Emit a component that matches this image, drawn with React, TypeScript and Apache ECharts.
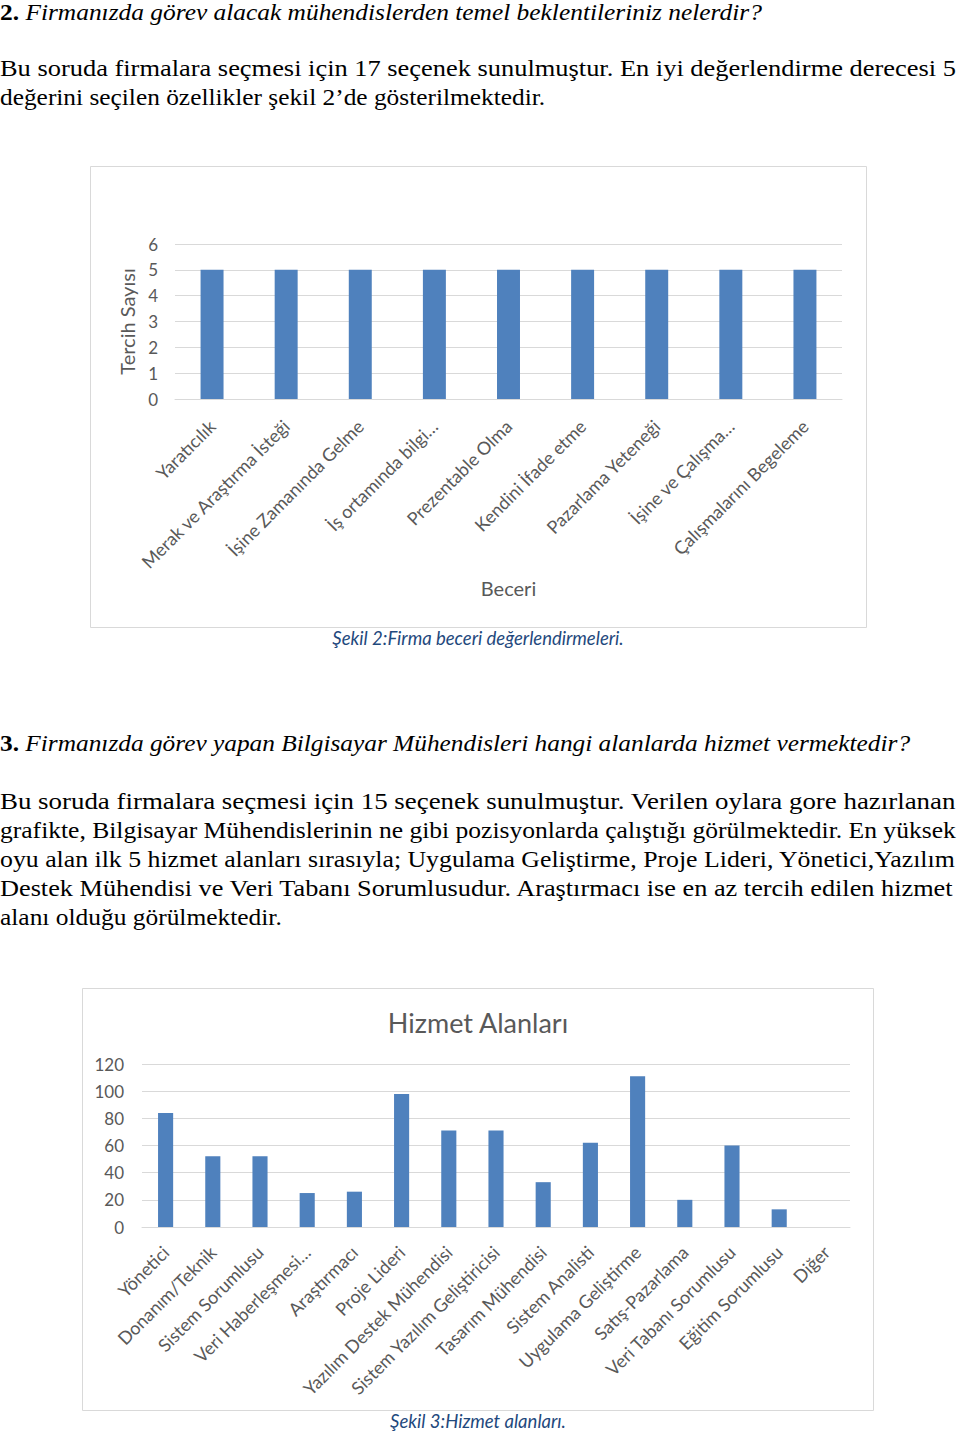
import React, { useEffect, useRef } from "react";
import * as echarts from "echarts";

// ---------- DATA ----------
const skillCategories = [
  "Yaratıcılık",
  "Merak ve Araştırma İsteği",
  "İşine Zamanında Gelme",
  "İş ortamında bilgi…",
  "Prezentable Olma",
  "Kendini İfade etme",
  "Pazarlama Yeteneği",
  "İşine ve Çalışma…",
  "Çalışmalarını Begeleme",
];
const skillValues = [5, 5, 5, 5, 5, 5, 5, 5, 5];

const serviceCategories = [
  "Yönetici",
  "Donanım/Teknik",
  "Sistem Sorumlusu",
  "Veri Haberleşmesi…",
  "Araştırmacı",
  "Proje Lideri",
  "Yazılım Destek Mühendisi",
  "Sistem Yazılım Geliştiricisi",
  "Tasarım Mühendisi",
  "Sistem Analisti",
  "Uygulama Geliştirme",
  "Satış-Pazarlama",
  "Veri Tabanı Sorumlusu",
  "Eğitim Sorumlusu",
  "Diğer",
];
const serviceValues = [84, 52, 52, 25, 26, 98, 71, 71, 33, 62, 111, 20, 60, 13, 0];

// ---------- TEXT ----------
const q2Number = "2.";
const q2Question = "Firmanızda görev alacak mühendislerden temel beklentileriniz nelerdir?";
const p1Lines = [
  "Bu soruda firmalara seçmesi için 17 seçenek sunulmuştur. En iyi değerlendirme derecesi 5",
  "değerini seçilen özellikler şekil 2’de gösterilmektedir.",
];
const q3Number = "3.";
const q3Question = "Firmanızda görev yapan Bilgisayar Mühendisleri hangi alanlarda hizmet vermektedir?";
const p2Lines = [
  "Bu soruda firmalara seçmesi için 15 seçenek sunulmuştur. Verilen oylara gore hazırlanan",
  "grafikte, Bilgisayar Mühendislerinin ne gibi pozisyonlarda çalıştığı görülmektedir. En yüksek",
  "oyu alan ilk 5 hizmet alanları sırasıyla; Uygulama Geliştirme, Proje Lideri, Yönetici,Yazılım",
  "Destek Mühendisi ve Veri Tabanı Sorumlusudur. Araştırmacı ise en az tercih edilen hizmet",
  "alanı olduğu görülmektedir.",
];
const chart1XName = "Beceri";
const chart1YName = "Tercih Sayısı";
const chart2Title = "Hizmet Alanları";
const caption2 = "Şekil 2:Firma beceri değerlendirmeleri.";
const caption3 = "Şekil 3:Hizmet alanları.";

// ---------- LAYOUT (positions / widths of text lines) ----------
const SERIF = "Liberation Serif";
const SANS = "Lato";
const BODY_SIZE = 24;
const q2Layout = { y: 12, width: 762 };
const p1Layout = [
  { y: 68, width: 956 },
  { y: 97, width: 545 },
];
const q3Layout = { y: 743, width: 910 };
const p2Layout = [
  { y: 801, width: 956 },
  { y: 830, width: 956 },
  { y: 859, width: 956 },
  { y: 888, width: 956 },
  { y: 917, width: 282 },
];

const BLUE = "#4f81bd";
const GRID_GRAY = "#d9d9d9";
const LABEL_GRAY = "#595959";
const CAPTION_BLUE = "#1f497d";

function makeMeasurer() {
  const c = document.createElement("canvas");
  const ctx = c.getContext("2d") as CanvasRenderingContext2D;
  return (font: string, text: string) => {
    ctx.font = font;
    return ctx.measureText(text).width;
  };
}

export default function App() {
  const ref = useRef<HTMLDivElement>(null);

  useEffect(() => {
    if (!ref.current) return;
    const chart = echarts.init(ref.current, undefined, { renderer: "svg" });
    const measure = makeMeasurer();
    const plainFont = `${BODY_SIZE}px ${SERIF}`;

    const plainLine = (text: string, y: number, width: number) => {
      const w = measure(plainFont, text);
      return {
        type: "text",
        x: 0,
        y,
        scaleX: width / w,
        style: {
          text,
          fontSize: BODY_SIZE,
          fontFamily: SERIF,
          fill: "#000",
          align: "left",
          verticalAlign: "middle",
        },
      };
    };

    const heading = (num: string, q: string, y: number, width: number) => {
      const w =
        measure(`bold ${BODY_SIZE}px ${SERIF}`, num) +
        measure(plainFont, " ") +
        measure(`italic ${BODY_SIZE}px ${SERIF}`, q);
      return {
        type: "text",
        x: 0,
        y,
        scaleX: width / w,
        style: {
          text: `{b|${num}} {i|${q}}`,
          fontSize: BODY_SIZE,
          fontFamily: SERIF,
          fill: "#000",
          align: "left",
          verticalAlign: "middle",
          rich: {
            b: { fontWeight: "bold", fontSize: BODY_SIZE, fontFamily: SERIF, fill: "#000" },
            i: { fontStyle: "italic", fontSize: BODY_SIZE, fontFamily: SERIF, fill: "#000" },
          },
        },
      };
    };

    const caption = (text: string, y: number) => ({
      type: "text",
      x: 478,
      y,
      style: {
        text,
        fontSize: 18.5,
        fontFamily: SANS,
        fontStyle: "italic",
        fill: CAPTION_BLUE,
        align: "center",
        verticalAlign: "middle",
      },
    });

    const graphics: any[] = [
      heading(q2Number, q2Question, q2Layout.y, q2Layout.width),
      ...p1Lines.map((t, i) => plainLine(t, p1Layout[i].y, p1Layout[i].width)),
      heading(q3Number, q3Question, q3Layout.y, q3Layout.width),
      ...p2Lines.map((t, i) => plainLine(t, p2Layout[i].y, p2Layout[i].width)),
      {
        type: "rect",
        shape: { x: 90.5, y: 166.5, width: 776, height: 461 },
        style: { fill: "none", stroke: GRID_GRAY, lineWidth: 1 },
        z: -1,
      },
      {
        type: "rect",
        shape: { x: 82.5, y: 988.5, width: 791, height: 422 },
        style: { fill: "none", stroke: GRID_GRAY, lineWidth: 1 },
        z: -1,
      },
      caption(caption2, 638),
      caption(caption3, 1421),
      {
        type: "text",
        x: 478,
        y: 1022,
        style: {
          text: chart2Title,
          fontSize: 27,
          fontFamily: SANS,
          fill: LABEL_GRAY,
          align: "center",
          verticalAlign: "middle",
        },
      },
    ];

    const axisLabelBase = { color: LABEL_GRAY, fontFamily: SANS };

    chart.setOption({
      animation: false,
      backgroundColor: "#ffffff",
      grid: [
        { left: 175, top: 244, width: 667, height: 155, containLabel: false },
        { left: 142, top: 1064, width: 708, height: 163, containLabel: false },
      ],
      xAxis: [
        {
          type: "category",
          gridIndex: 0,
          data: skillCategories,
          axisTick: { show: false },
          axisLine: { lineStyle: { color: GRID_GRAY } },
          axisLabel: { ...axisLabelBase, fontSize: 18, rotate: 45, interval: 0, margin: 24 },
          name: chart1XName,
          nameLocation: "middle",
          nameGap: 179,
          nameTextStyle: { fontSize: 20, color: LABEL_GRAY, fontFamily: SANS },
        },
        {
          type: "category",
          gridIndex: 1,
          data: serviceCategories,
          axisTick: { show: false },
          axisLine: { lineStyle: { color: GRID_GRAY } },
          axisLabel: { ...axisLabelBase, fontSize: 18, rotate: 45, interval: 0, margin: 22 },
        },
      ],
      yAxis: [
        {
          type: "value",
          gridIndex: 0,
          min: 0,
          max: 6,
          interval: 1,
          axisLine: { show: false },
          axisTick: { show: false },
          splitLine: { lineStyle: { color: GRID_GRAY } },
          axisLabel: { ...axisLabelBase, fontSize: 17, margin: 17 },
          name: chart1YName,
          nameLocation: "middle",
          nameGap: 36,
          nameTextStyle: { fontSize: 20, color: LABEL_GRAY, fontFamily: SANS },
        },
        {
          type: "value",
          gridIndex: 1,
          min: 0,
          max: 120,
          interval: 20,
          axisLine: { show: false },
          axisTick: { show: false },
          splitLine: { lineStyle: { color: GRID_GRAY } },
          axisLabel: { ...axisLabelBase, fontSize: 17, margin: 18 },
        },
      ],
      series: [
        {
          type: "bar",
          xAxisIndex: 0,
          yAxisIndex: 0,
          data: skillValues,
          barWidth: "31%",
          itemStyle: { color: BLUE },
        },
        {
          type: "bar",
          xAxisIndex: 1,
          yAxisIndex: 1,
          data: serviceValues,
          barWidth: "32%",
          itemStyle: { color: BLUE },
        },
      ],
      graphic: graphics,
    });

    return () => chart.dispose();
  }, []);

  return (
    <div
      ref={ref}
      style={{ position: "absolute", left: 0, top: 0, width: 960, height: 1438, background: "#fff" }}
    />
  );
}
